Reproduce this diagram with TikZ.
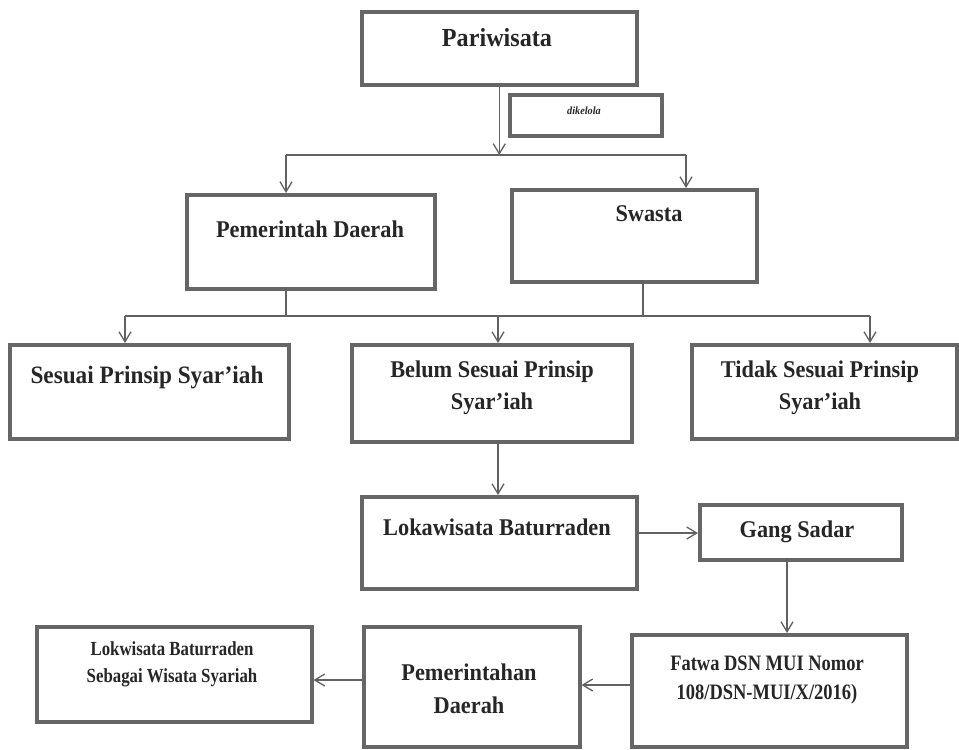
\documentclass[tikz,border=0pt]{standalone}
\usepackage{fontspec}
\setmainfont{Liberation Serif}[FakeStretch=0.93]
\newfontfamily\condfont{Liberation Serif}[FakeStretch=0.84]
\usetikzlibrary{arrows.meta}
\tikzset{
  box/.style={draw=black!60, line width=3.5pt, fill=white, minimum width=#1, anchor=north west, inner sep=0pt},
  txt/.style={font=\bfseries\fontsize{24}{32}\selectfont, align=center, text=black!85, inner sep=0pt},
  conn/.style={draw=black!62, line width=1.3pt},
  arr/.style={conn, -{Straight Barb[length=10pt,width=12pt,line width=1.3pt]}}
}
\begin{document}
\begin{tikzpicture}[x=1pt,y=-1pt]
\useasboundingbox (0,0) rectangle (959,750);
% boxes
\node[box=275pt, minimum height=73pt] (pw) at (360,10) {};
\node[txt, font=\bfseries\fontsize{26}{30}\selectfont] (pwt) at (497,38) {Pariwisata};
\node[box=152pt, minimum height=41pt] (dk) at (508,93) {};
\node[txt, font=\bfseries\itshape\fontsize{11}{13}\selectfont] (dkt) at (584,111) {dikelola};

\node[box=248pt, minimum height=94pt] (pd) at (185,193) {};
\node[txt] (pdt) at (310,229) {Pemerintah Daerah};
\node[box=245pt, minimum height=92pt] (sw) at (510,188) {};
\node[txt] (swt) at (649,214) {Swasta};

\node[box=279pt, minimum height=94pt] (ss) at (8,343) {};
\node[txt, font=\bfseries\fontsize{25}{32}\selectfont] (sst) at (147,378) {Sesuai Prinsip Syar’iah};
\node[box=280pt, minimum height=97pt] (bs) at (350,343) {};
\node[txt] (bst) at (492,388) {Belum Sesuai Prinsip\\Syar’iah};
\node[box=265pt, minimum height=94pt] (ts) at (690,343) {};
\node[txt] (tst) at (820,388) {Tidak Sesuai Prinsip\\Syar’iah};

\node[box=275pt, minimum height=92pt] (lw) at (360,495) {};
\node[txt] (lwt) at (497,527) {Lokawisata Baturraden};
\node[box=202pt, minimum height=55pt] (gs) at (698,503) {};
\node[txt] (gst) at (797,532) {Gang Sadar};

\node[box=275pt, minimum height=112pt] (fw) at (630,633) {};
\node[txt, font=\condfont\bfseries\fontsize{22}{29}\selectfont] (fwt) at (767,680) {Fatwa DSN MUI Nomor\\108/DSN-MUI/X/2016)};
\node[box=216pt, minimum height=120pt] (pe) at (362,625) {};
\node[txt, font=\bfseries\fontsize{24}{33}\selectfont] (pet) at (469,689) {Pemerintahan\\Daerah};
\node[box=275pt, minimum height=95pt] (lb) at (35,625) {};
\node[txt, font=\condfont\bfseries\fontsize{20}{27}\selectfont] (lbt) at (172,664) {Lokwisata Baturraden\\Sebagai Wisata Syariah};

% connectors
\coordinate (h1L) at (286,155);
\coordinate (h1R) at (686,155);
\draw[conn] (h1L) -- (h1R);
\draw[arr] (pw.south) -- (pw.south |- h1L);
\draw[arr] (h1L) -- (h1L |- pd.north);
\draw[arr] (h1R) -- (h1R |- sw.north);

\coordinate (h2L) at (125,316);
\coordinate (h2M) at (498,316);
\coordinate (h2R) at (870,316);
\coordinate (pdb) at (286,287);
\coordinate (swb) at (643,280);
\draw[conn] (h2L) -- (h2R);
\draw[conn] (pdb) -- (pdb |- h2L);
\draw[conn] (swb) -- (swb |- h2L);
\draw[arr] (h2L) -- (h2L |- ss.north);
\draw[arr] (h2M) -- (h2M |- bs.north);
\draw[arr] (h2R) -- (h2R |- ts.north);

\coordinate (bsb) at (498,440);
\draw[arr] (bsb) -- (bsb |- lw.north);
\coordinate (lwr) at (637,533);
\draw[arr] (lwr) -- (lwr -| gs.west);
\coordinate (gsb) at (787,558);
\draw[arr] (gsb) -- (gsb |- fw.north);
\coordinate (fwl) at (630,685);
\draw[arr] (fwl) -- (fwl -| pe.east);
\coordinate (pel) at (362,680);
\draw[arr] (pel) -- (pel -| lb.east);
\end{tikzpicture}
\end{document}
